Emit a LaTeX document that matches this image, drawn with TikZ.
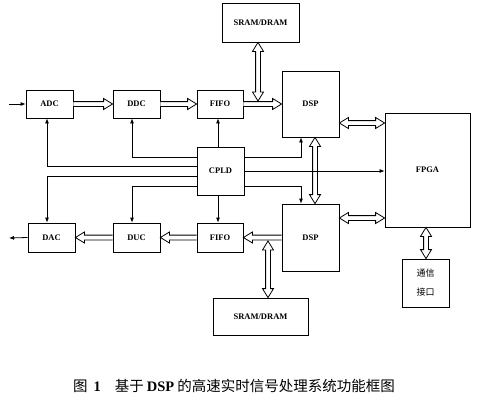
\documentclass[tikz,border=0pt]{standalone}
\usepackage{fontspec}
\setmainfont{Liberation Serif}
\newfontfamily\cjk{Noto Sans CJK SC}
\usetikzlibrary{arrows.meta,calc}
\newcommand\bush{2.4pt}
\newcommand\busw{5.5pt}
\newcommand\busL{9pt}
% single-headed hollow bus arrow from #1 to #2
\newcommand\hbus[2]{%
  \coordinate (hbA) at (#1); \coordinate (hbB) at (#2);
  \coordinate (hbC) at ($(hbB)!\busL!(hbA)$);
  \filldraw[busline] ($(hbA)!\bush!90:(hbB)$) -- ($(hbC)!\bush!-90:(hbA)$) --
    ($(hbC)!\busw!-90:(hbA)$) -- (hbB) -- ($(hbC)!\busw!90:(hbA)$) --
    ($(hbC)!\bush!90:(hbA)$) -- ($(hbA)!\bush!-90:(hbB)$);}
% double-headed hollow bus arrow between #1 and #2
\newcommand\dbus[2]{%
  \coordinate (hbA) at (#1); \coordinate (hbB) at (#2);
  \coordinate (hbC) at ($(hbB)!\busL!(hbA)$);
  \coordinate (hbD) at ($(hbA)!\busL!(hbB)$);
  \filldraw[busline] ($(hbD)!\bush!90:(hbB)$) -- ($(hbC)!\bush!-90:(hbA)$) --
    ($(hbC)!\busw!-90:(hbA)$) -- (hbB) -- ($(hbC)!\busw!90:(hbA)$) --
    ($(hbC)!\bush!90:(hbA)$) -- ($(hbD)!\bush!-90:(hbB)$) --
    ($(hbD)!\busw!-90:(hbB)$) -- (hbA) -- ($(hbD)!\busw!90:(hbB)$) -- cycle;}
\begin{document}
\begin{tikzpicture}[x=1pt,y=-1pt,
  blk/.style={draw,line width=0.8pt,inner sep=0pt,font=\fontsize{8.5}{10}\selectfont\bfseries},
  busline/.style={draw=black,fill=white,line width=0.8pt,line join=miter},
  sig/.style={line width=0.8pt,-{Latex[length=5pt,width=4pt]}}]
\useasboundingbox[fill=white] (0,0) rectangle (492,399);
% blocks
\node[blk,minimum width=77pt,minimum height=39pt] (sram1) at (260.5,22.5) {SRAM/DRAM};
\node[blk,minimum width=47pt,minimum height=28pt] (adc) at (49.5,104) {ADC};
\node[blk,minimum width=47pt,minimum height=28pt] (ddc) at (136.5,104) {DDC};
\node[blk,minimum width=46pt,minimum height=28pt] (fifo1) at (220,104) {FIFO};
\node[blk,minimum width=47pt,minimum height=48pt] (cpld) at (220.5,171) {CPLD};
\node[blk,minimum width=57pt,minimum height=66pt] (dsp1) at (310.5,104) {DSP};
\node[blk,minimum width=85pt,minimum height=114pt] (fpga) at (427.5,170) {FPGA};
\node[blk,minimum width=57pt,minimum height=67pt] (dsp2) at (310.5,237.5) {DSP};
\node[blk,minimum width=47pt,minimum height=48pt,align=center,font=\fontsize{9}{19}\selectfont\cjk] (comm) at (425.5,283) {通信\\接口};
\node[blk,minimum width=95pt,minimum height=37pt] (sram2) at (260.5,316.5) {SRAM/DRAM};
\node[blk,minimum width=47pt,minimum height=29pt] (dac) at (51.5,237.5) {DAC};
\node[blk,minimum width=47pt,minimum height=29pt] (duc) at (136.5,237.5) {DUC};
\node[blk,minimum width=46pt,minimum height=29pt] (fifo2) at (220,237.5) {FIFO};
\coordinate (in) at (9,104);
\coordinate (out) at (9,238);
% signal path
\draw[sig] (in) -- (adc.west);
\hbus{adc.east}{ddc.west}
\hbus{ddc.east}{fifo1.west}
\hbus{fifo1.east}{dsp1.west}
\hbus{dsp2.west}{fifo2.east}
\hbus{fifo2.west}{duc.east}
\hbus{duc.west}{dac.east}
\draw[sig] (dac.west) -- (out);
% memory / interconnect buses
\dbus{sram1.south -| 258,0}{258,101}
\dbus{268,241}{sram2.north -| 268,0}
\dbus{dsp1.south -| 315,0}{dsp2.north -| 315,0}
\dbus{dsp1.east |- 0,123}{fpga.west |- 0,123}
\dbus{dsp2.east |- 0,218}{fpga.west |- 0,218}
\dbus{fpga.south -| 426,0}{comm.north -| 426,0}
% CPLD control lines
\draw[sig] (cpld.north -| 218,0) -- (fifo1.south -| 218,0);
\draw[sig] (cpld.south -| 218,0) -- (fifo2.north -| 218,0);
\draw[sig] (cpld.west |- 0,157) -| ([xshift=-4.5pt]ddc.south);
\draw[sig] (cpld.west |- 0,166) -| ([xshift=-2.5pt]adc.south);
\draw[sig] (cpld.west |- 0,176) -| ([xshift=-4.5pt]dac.north);
\draw[sig] (cpld.west |- 0,186) -| ([xshift=-4.5pt]duc.north);
\draw[sig] (cpld.east |- 0,157) -| ([xshift=-9.5pt]dsp1.south);
\draw[sig] (cpld.east |- 0,171) -- (fpga.west |- 0,171);
\draw[sig] (cpld.east |- 0,186) -| ([xshift=-9.5pt]dsp2.north);
% caption
\node[font=\fontsize{14.5}{16}\selectfont] (cap) at (234,386) {{\cjk 图}\hspace{6pt}{\bfseries 1}\hspace{14pt}{\cjk 基于}\hspace{3pt}{\bfseries DSP}\hspace{3pt}{\cjk 的高速实时信号处理系统功能框图}};
\end{tikzpicture}
\end{document}
